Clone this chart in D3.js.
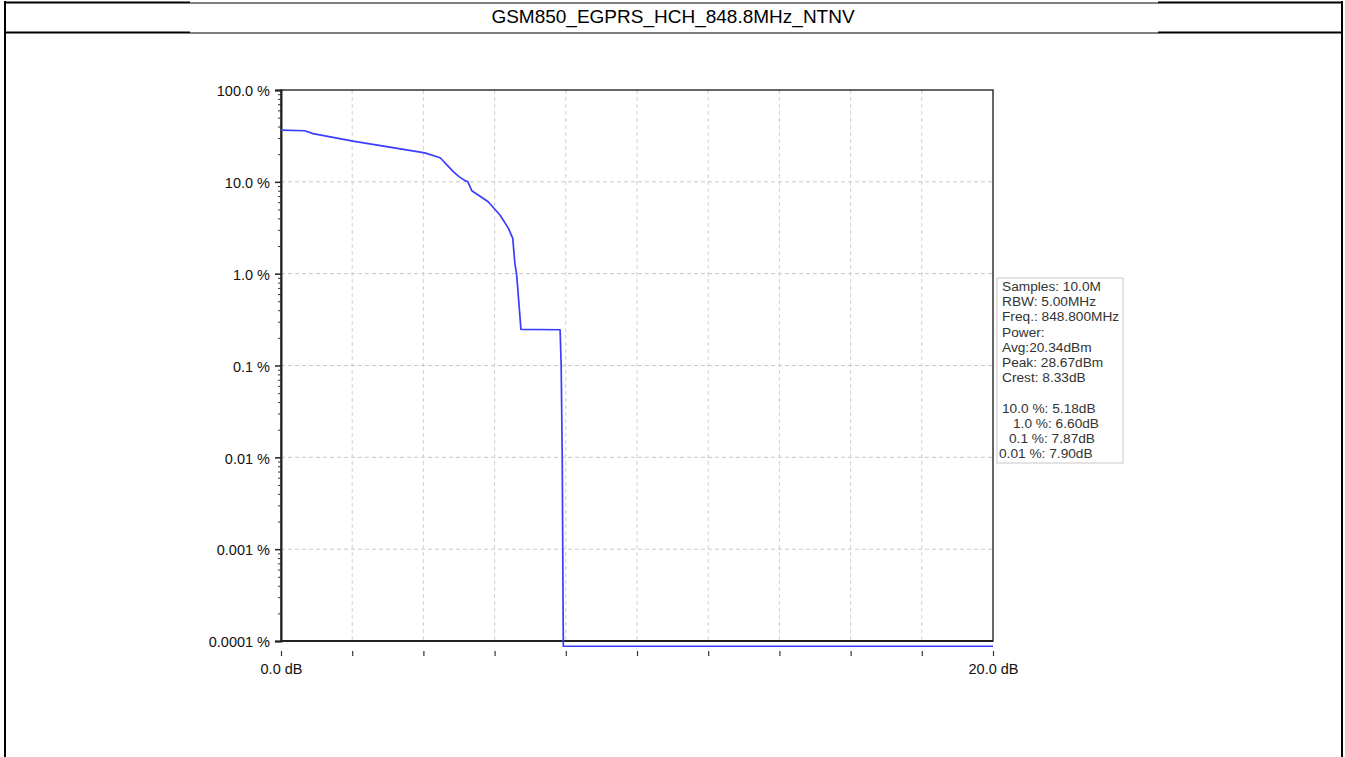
<!DOCTYPE html>
<html>
<head>
<meta charset="utf-8">
<script src="https://cdn.jsdelivr.net/npm/d3@7"></script>
<style>
  html, body { margin: 0; padding: 0; background: #fff; }
  svg { display: block; font-family: Arial, "Liberation Sans", sans-serif; }
</style>
</head>
<body>
<svg id="chart" width="1345" height="757"></svg>
<script>
// CCDF curve: power above average (dB) vs. probability (%)
const levelDb = [0, 0.67, 0.9, 2.02, 4.04, 4.47, 4.84, 5.0, 5.17, 5.25, 5.36, 5.82, 6.15, 6.39, 6.51, 6.57, 6.62, 6.69, 6.74, 7.84, 7.87, 7.90, 7.93, 20];
const probability = [36.5, 36.0, 33.5, 27.8, 20.7, 18.3, 12.9, 11.4, 10.3, 10.0, 8.0, 6.07, 4.35, 3.11, 2.42, 1.29, 0.97, 0.44, 0.247, 0.245, 0.1, 0.01, 0.0000877, 0.0000877];

const yTickValues = [100, 10, 1, 0.1, 0.01, 0.001, 0.0001];
const yTickLabels = ["100.0 %", "10.0 %", "1.0 %", "0.1 %", "0.01 %", "0.001 %", "0.0001 %"];
const xTickValues = [0, 2, 4, 6, 8, 10, 12, 14, 16, 18, 20];
const xTickLabels = ["0.0 dB", "", "", "", "", "", "", "", "", "", "20.0 dB"];

const titleText = "GSM850_EGPRS_HCH_848.8MHz_NTNV";
const infoLines = ["Samples: 10.0M", "RBW: 5.00MHz", "Freq.: 848.800MHz", "Power:", "Avg:20.34dBm", "Peak: 28.67dBm", "Crest: 8.33dB", "", "10.0 %: 5.18dB", "1.0 %: 6.60dB", "0.1 %: 7.87dB", "0.01 %: 7.90dB"];
const infoIndent = [0, 0, 0, 0, 0, 0, 0, 0, 0, 11, 7, -3];

const svg = d3.select("#chart");

// ---- table frame around the figure ----
const frame = svg.append("g");
frame.append("line").attr("x1", 5).attr("x2", 5).attr("y1", 1).attr("y2", 757).attr("stroke", "#000").attr("stroke-width", 2);
frame.append("line").attr("x1", 1342).attr("x2", 1342).attr("y1", 1).attr("y2", 757).attr("stroke", "#000").attr("stroke-width", 2);
[2.5, 32.5].forEach(yy => {
  frame.append("line").attr("x1", 4).attr("x2", 190).attr("y1", yy).attr("y2", yy).attr("stroke", "#000").attr("stroke-width", 2);
  frame.append("line").attr("x1", 1158).attr("x2", 1343).attr("y1", yy).attr("y2", yy).attr("stroke", "#000").attr("stroke-width", 2);
  frame.append("line").attr("x1", 190).attr("x2", 1158).attr("y1", yy + 0.5).attr("y2", yy + 0.5).attr("stroke", "#000").attr("stroke-width", 1);
});

svg.append("text")
  .attr("x", 673).attr("y", 23)
  .attr("text-anchor", "middle")
  .attr("font-size", 19)
  .attr("fill", "#000")
  .text(titleText);

// ---- plot area ----
const plotL = 281, plotR = 993, plotT = 90, plotB = 641;
const x = d3.scaleLinear().domain([0, 20]).range([plotL, plotR]);
const y = d3.scaleLog().domain([0.0001, 100]).range([plotB, plotT]);

// grid
const grid = svg.append("g");
grid.selectAll("line.h").data(yTickValues.slice(1, -1)).join("line")
  .attr("x1", plotL).attr("x2", plotR)
  .attr("y1", d => y(d)).attr("y2", d => y(d))
  .attr("stroke", "#c8c8c8").attr("stroke-width", 1).attr("stroke-dasharray", "4,3");
grid.selectAll("line.v").data(xTickValues.slice(1, -1)).join("line")
  .attr("x1", d => x(d)).attr("x2", d => x(d))
  .attr("y1", plotT).attr("y2", plotB)
  .attr("stroke", "#cfcfcf").attr("stroke-width", 1).attr("stroke-dasharray", "4,3");

// plot border
svg.append("rect")
  .attr("x", plotL).attr("y", plotT).attr("width", plotR - plotL).attr("height", plotB - plotT)
  .attr("fill", "none").attr("stroke", "#333").attr("stroke-width", 1.5);

// y axis with log minor ticks
const minorTicks = [];
for (let e = -4; e < 2; e++) for (let m = 2; m <= 9; m++) minorTicks.push(m * Math.pow(10, e));
const yMinor = svg.append("g").attr("transform", `translate(${plotL},0)`)
  .call(d3.axisLeft(y).tickValues(minorTicks).tickSize(3).tickFormat(""));
yMinor.select(".domain").remove();
yMinor.selectAll(".tick line").attr("stroke", "#333");

const yAxis = svg.append("g").attr("transform", `translate(${plotL},0)`)
  .call(d3.axisLeft(y).tickValues(yTickValues).tickSize(6).tickPadding(5)
    .tickFormat((d, i) => yTickLabels[i]));
yAxis.select(".domain").attr("stroke", "#222").attr("stroke-width", 2);
yAxis.selectAll(".tick line").attr("stroke", "#222").attr("stroke-width", 1.5);
yAxis.selectAll(".tick text").attr("font-size", 14.5).attr("fill", "#111")
  .attr("font-family", "Arial, 'Liberation Sans', sans-serif").attr("dy", "0.4em");

// bottom axis line
svg.append("line").attr("x1", plotL).attr("x2", plotR).attr("y1", plotB).attr("y2", plotB)
  .attr("stroke", "#222").attr("stroke-width", 2);

// x axis ticks sit slightly below the plot
const xAxis = svg.append("g").attr("transform", `translate(0,${plotB + 10})`)
  .call(d3.axisBottom(x).tickValues(xTickValues).tickSize(5).tickPadding(8)
    .tickFormat((d, i) => xTickLabels[i]));
xAxis.select(".domain").remove();
xAxis.selectAll(".tick line").attr("stroke", "#333").attr("stroke-width", 1.2);
xAxis.selectAll(".tick text").attr("font-size", 14.5).attr("fill", "#111")
  .attr("font-family", "Arial, 'Liberation Sans', sans-serif");

// CCDF curve
const pts = levelDb.map((d, i) => [d, probability[i]]);
svg.append("path")
  .datum(pts)
  .attr("fill", "none")
  .attr("stroke", "#3c3cff")
  .attr("stroke-width", 1.7)
  .attr("stroke-linejoin", "round")
  .attr("d", d3.line().x(d => x(d[0])).y(d => y(d[1])));

// info box
const info = svg.append("g");
info.append("rect")
  .attr("x", 997).attr("y", 278).attr("width", 126).attr("height", 185)
  .attr("fill", "#fff").attr("stroke", "#c8c8c8").attr("stroke-width", 1);
info.selectAll("text").data(infoLines).join("text")
  .attr("x", (d, i) => 1002 + infoIndent[i])
  .attr("y", (d, i) => 291 + i * 15.2)
  .attr("font-size", 13.7)
  .attr("fill", "#333")
  .text(d => d);
</script>
</body>
</html>
